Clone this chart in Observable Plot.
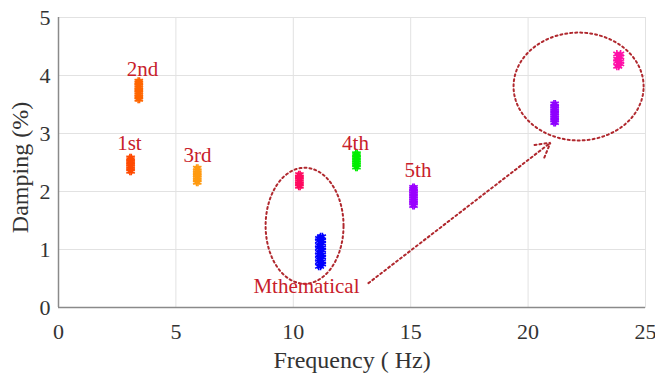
<!DOCTYPE html>
<html>
<head>
<meta charset="utf-8">
<script src="https://cdn.jsdelivr.net/npm/d3@7"></script>
<script src="https://cdn.jsdelivr.net/npm/@observablehq/plot@0.6"></script>
<style>
  html, body { margin: 0; padding: 0; background: #fff; }
  #chart svg { display: block; }
</style>
</head>
<body>
<div id="chart"></div>
<script>
// ---- Data ----
const modeNames   = ["1st", "2nd", "3rd", "pink10", "blue", "4th", "5th", "purple21", "pink24"];
const modeColors  = ["#ff4a00", "#ff6600", "#ff9a10", "#ff0a60", "#0000ff", "#00ee00", "#9a00ff", "#8f00ff", "#ff10a8"];
const modeFreqCols = [
  [3.04, 3.10],
  [3.39, 3.45],
  [5.88, 5.94],
  [10.23, 10.29],
  [11.08, 11.16, 11.24],
  [12.66, 12.72],
  [15.09, 15.15],
  [21.10, 21.16],
  [23.78, 23.86, 23.94]
];
const modeDamping = [
  [2.35, 2.39, 2.43, 2.47, 2.51, 2.55, 2.58],
  [3.59, 3.63, 3.67, 3.71, 3.75, 3.79, 3.83, 3.87, 3.90],
  [2.16, 2.20, 2.24, 2.28, 2.32, 2.36, 2.40],
  [2.09, 2.13, 2.17, 2.21, 2.25, 2.29],
  [0.71, 0.75, 0.79, 0.83, 0.87, 0.91, 0.95, 0.99, 1.03, 1.07, 1.11, 1.15, 1.19, 1.22],
  [2.42, 2.46, 2.50, 2.54, 2.58, 2.62, 2.65],
  [1.76, 1.80, 1.84, 1.88, 1.92, 1.96, 2.00, 2.04, 2.07],
  [3.19, 3.23, 3.27, 3.31, 3.35, 3.39, 3.43, 3.47, 3.51],
  [4.16, 4.20, 4.24, 4.28, 4.32, 4.37]
];

const xTicks = [0, 5, 10, 15, 20, 25];
const yTicks = [0, 1, 2, 3, 4, 5];

// annotation labels (data units)
const labelText = ["1st", "2nd", "3rd", "4th", "5th", "Mthematical"];
const labelX    = [3.02, 3.58, 5.92, 12.65, 15.31, 10.56];
const labelY    = [2.83, 4.10, 2.62, 2.83, 2.36, 0.36];

// dotted ellipses (data units): center x, center y, radius x, radius y
const ellipseCx = [10.48, 22.15];
const ellipseCy = [1.41, 3.81];
const ellipseRx = [1.66, 2.77];
const ellipseRy = [1.00, 0.93];

// dotted arrow (data units)
const arrowFrom = [13.2, 0.42];
const arrowTo   = [20.95, 2.84];

// ---- Build tables ----
const points = [];
modeNames.forEach((name, i) => {
  modeDamping[i].forEach((d, j) => {
    const cols = modeFreqCols[i];
    points.push({mode: name, f: cols[j % cols.length], d});
    points.push({mode: name, f: cols[(j + 1) % cols.length], d});
  });
});
const labels = labelText.map((t, i) => ({t, x: labelX[i], y: labelY[i]}));
const ellipsePts = [];
ellipseCx.forEach((cx, k) => {
  for (let a = 0; a < 120; a++) {
    const th = (a / 120) * 2 * Math.PI;
    ellipsePts.push({k, x: cx + ellipseRx[k] * Math.cos(th), y: ellipseCy[k] + ellipseRy[k] * Math.sin(th)});
  }
});

const serif = "'Liberation Serif', 'Times New Roman', serif";
const red = "#c8202a";
const dotRed = "#b0282e";
const axisInk = "#333";

const chart = Plot.plot({
  width: 655,
  height: 376,
  marginLeft: 58,
  marginRight: 10,
  marginTop: 17,
  marginBottom: 69,
  style: {fontFamily: serif, background: "#fff", overflow: "visible"},
  x: {domain: [0, 25], axis: null},
  y: {domain: [0, 5], axis: null},
  color: {domain: modeNames, range: modeColors},
  marks: [
    Plot.gridX(xTicks, {stroke: "#e2e2e2", strokeOpacity: 1}),
    Plot.gridY(yTicks, {stroke: "#e2e2e2", strokeOpacity: 1}),
    Plot.frame({stroke: "#e2e2e2"}),
    Plot.ruleX([0], {stroke: "#8a8a8a", strokeWidth: 1.5}),
    Plot.ruleY([0], {stroke: "#8a8a8a", strokeWidth: 1.5}),
    Plot.text(xTicks, {x: d => d, frameAnchor: "bottom", dy: 24, lineAnchor: "middle", textAnchor: "middle",
      text: d => String(d), fontSize: 22, fontFamily: serif, fill: axisInk}),
    Plot.text(yTicks, {y: d => d, frameAnchor: "left", dx: -8, textAnchor: "end", lineAnchor: "middle",
      text: d => String(d), fontSize: 22, fontFamily: serif, fill: axisInk}),
    Plot.text(["Frequency ( Hz)"], {frameAnchor: "bottom", dy: 53, lineAnchor: "middle", textAnchor: "middle",
      fontSize: 24, fontFamily: serif, fill: axisInk}),
    Plot.text(["Damping (%)"], {frameAnchor: "left", dx: -38, dy: 5, rotate: -90, textAnchor: "middle", lineAnchor: "middle",
      fontSize: 24, fontFamily: serif, fill: axisInk}),
    Plot.line(ellipsePts, {x: "x", y: "y", z: "k", curve: "linear-closed", stroke: dotRed, strokeWidth: 2, strokeDasharray: "2,3"}),
    Plot.arrow([{x1: arrowFrom[0], y1: arrowFrom[1], x2: arrowTo[0], y2: arrowTo[1]}],
      {x1: "x1", y1: "y1", x2: "x2", y2: "y2", stroke: dotRed, strokeWidth: 2, strokeDasharray: "2,3", headLength: 12, bend: 0}),
    Plot.dot(points, {x: "f", y: "d", stroke: "mode", symbol: "asterisk", r: 3.8, strokeWidth: 1.6}),
    Plot.text(labels, {x: "x", y: "y", text: "t", fill: red, fontSize: 21, fontFamily: serif})
  ]
});
document.getElementById("chart").appendChild(chart);
</script>
</body>
</html>
